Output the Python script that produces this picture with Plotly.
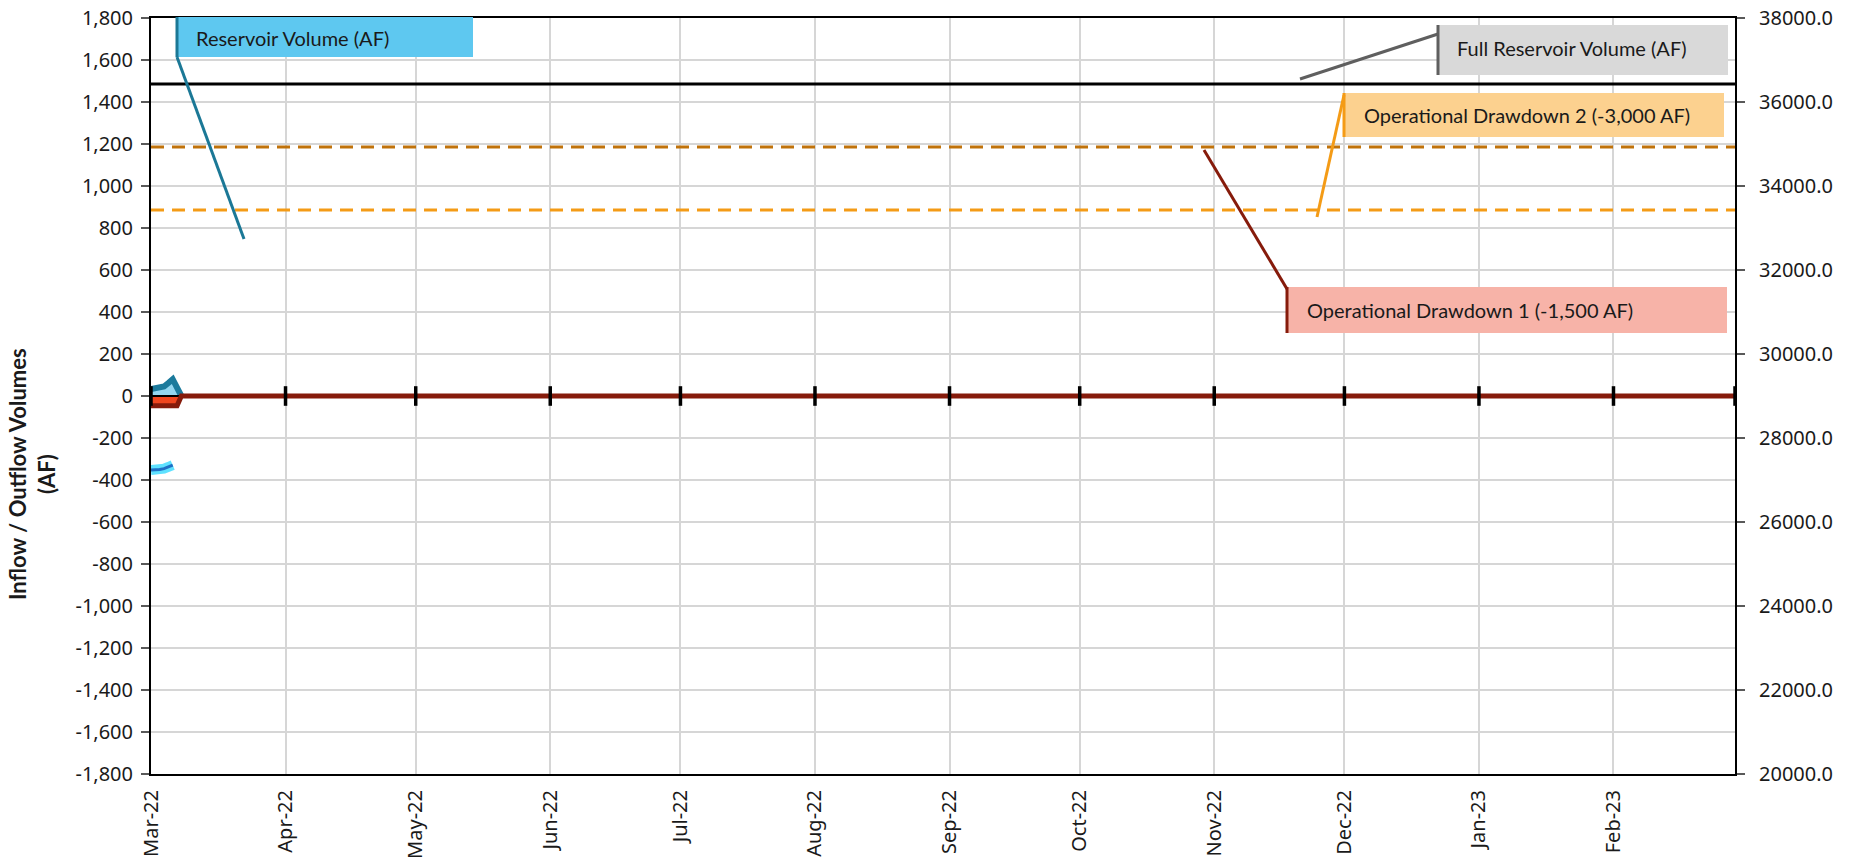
import plotly.graph_objects as go

# ---------------- data ----------------
X_START = "2022-03-01"
X_END = "2023-03-01"
MONTH_TICKS = ["2022-03-01", "2022-04-01", "2022-05-01", "2022-06-01", "2022-07-01",
               "2022-08-01", "2022-09-01", "2022-10-01", "2022-11-01", "2022-12-01",
               "2023-01-01", "2023-02-01"]
TICK_MARK_DATES = MONTH_TICKS + [X_END]

FLOW_DATES = ["2022-03-01", "2022-03-02", "2022-03-03", "2022-03-04",
              "2022-03-05", "2022-03-06", "2022-03-07", "2022-03-08"]
INFLOW = [33, 35, 38, 45, 62, 80, 40, 0]

OUTFLOW_DATES = FLOW_DATES + [X_END]
OUTFLOW = [-47, -47, -47, -47, -47, -47, -47, 0, 0]

RES_DATES = ["2022-03-01", "2022-03-02", "2022-03-03", "2022-03-04", "2022-03-05", "2022-03-06"]
RES_VOLUME = [27240, 27240, 27250, 27270, 27310, 27355]

FULL_VOLUME = 36430
DRAWDOWN_1 = 34930
DRAWDOWN_2 = 33430

Y_LEFT_RANGE = [-1800, 1800]
Y_RIGHT_RANGE = [20000, 38000]
LEFT_TICKS = [-1800, -1600, -1400, -1200, -1000, -800, -600, -400, -200,
              0, 200, 400, 600, 800, 1000, 1200, 1400, 1600, 1800]
LEFT_TICK_TEXT = ["-1,800", "-1,600", "-1,400", "-1,200", "-1,000", "-800", "-600", "-400",
                  "-200", "0", "200", "400", "600", "800", "1,000", "1,200", "1,400",
                  "1,600", "1,800"]

CALLOUTS = ["Reservoir Volume (AF)", "Full Reservoir Volume (AF)",
            "Operational Drawdown 2 (-3,000 AF)", "Operational Drawdown 1 (-1,500 AF)"]
Y_TITLE = "Inflow / Outflow Volumes<br>(AF)"

# ---------------- layout geometry ----------------
W, H = 1854, 858
L, R, T, B = 151, 1735, 18, 774


def fx(px):
    return (px - L) / (R - L)


def fy(py):
    return (B - py) / (B - T)


fig = go.Figure()

# reference lines (right axis)
fig.add_trace(go.Scatter(x=[X_START, X_END], y=[FULL_VOLUME, FULL_VOLUME], yaxis="y2",
                         mode="lines", line=dict(color="#000000", width=3), showlegend=False))
fig.add_trace(go.Scatter(x=[X_START, X_END], y=[DRAWDOWN_1, DRAWDOWN_1], yaxis="y2",
                         mode="lines", line=dict(color="#c0720a", width=3, dash="13px,8px"),
                         showlegend=False))
fig.add_trace(go.Scatter(x=[X_START, X_END], y=[DRAWDOWN_2, DRAWDOWN_2], yaxis="y2",
                         mode="lines", line=dict(color="#f49b16", width=3, dash="13px,8px"),
                         showlegend=False))
# reservoir volume with glow
fig.add_trace(go.Scatter(x=RES_DATES, y=RES_VOLUME, yaxis="y2", mode="lines",
                         line=dict(color="rgba(40,215,255,0.75)", width=10), showlegend=False))
fig.add_trace(go.Scatter(x=RES_DATES, y=RES_VOLUME, yaxis="y2", mode="lines",
                         line=dict(color="#1f6fc5", width=3), showlegend=False))

# outflow fill
fig.add_trace(go.Scatter(x=OUTFLOW_DATES, y=OUTFLOW, mode="lines", fill="tozeroy",
                         fillcolor="#f0461e", line=dict(width=0), showlegend=False))
# inflow area
fig.add_trace(go.Scatter(x=FLOW_DATES, y=INFLOW, mode="lines", fill="tozeroy",
                         fillcolor="#93d6f0", line=dict(color="#1b7a9c", width=6),
                         showlegend=False))
# horizontal axis at zero
fig.add_trace(go.Scatter(x=[X_START, X_END], y=[0, 0], mode="lines",
                         line=dict(color="#000000", width=2), showlegend=False))
# outflow line
fig.add_trace(go.Scatter(x=OUTFLOW_DATES, y=OUTFLOW, mode="lines",
                         line=dict(color="#861b0b", width=5), showlegend=False))
# cross tick marks on the zero axis
fig.add_trace(go.Scatter(x=TICK_MARK_DATES, y=[0] * len(TICK_MARK_DATES), mode="markers",
                         marker=dict(symbol="line-ns", size=14,
                                     line=dict(color="#000000", width=3.5)),
                         cliponaxis=False, showlegend=False))

tick_font = dict(family="Noto Sans", size=20, color="#1a1a1a")

fig.update_layout(
    width=W, height=H,
    margin=dict(l=L, r=W - R, t=T, b=H - B, autoexpand=False),
    paper_bgcolor="white", plot_bgcolor="white",
    showlegend=False,
    xaxis=dict(type="date", range=[X_START, X_END], tickvals=MONTH_TICKS, tickformat="%b-%y",
               tickangle=-90, ticks="", showgrid=True, gridcolor="#d6d6d6", gridwidth=1.5,
               showline=True, linecolor="#000000", linewidth=2, mirror=True,
               tickfont=tick_font, zeroline=False, automargin=False, ticklabelstandoff=6),
    yaxis=dict(range=Y_LEFT_RANGE, tickmode="array", tickvals=LEFT_TICKS,
               ticktext=LEFT_TICK_TEXT, showgrid=True,
               gridcolor="#d6d6d6", gridwidth=1.5, zeroline=False,
               showline=True, linecolor="#000000", linewidth=2,
               ticks="outside", ticklen=8, tickcolor="#595959", tickwidth=1.5,
               tickfont=tick_font, automargin=False, ticklabelstandoff=4),
    yaxis2=dict(range=Y_RIGHT_RANGE, dtick=2000, tickformat=".1f", overlaying="y",
                side="right", showgrid=False, zeroline=False,
                showline=True, linecolor="#000000", linewidth=2,
                ticks="outside", ticklen=8, tickcolor="#595959", tickwidth=1.5,
                tickfont=tick_font, automargin=False, ticklabelstandoff=10),
)

shapes = []
annotations = []

# callout boxes: (x0, y0, x1, y1, fill, edge color, leader start, leader end, text x, text y, text)
boxes = [
    (177, 17, 473, 57, "#5ec8f0", "#1b7896", (177, 57), (244, 239), 194, 38, CALLOUTS[0]),
    (1438, 25, 1728, 75, "#d9d9d9", "#5f5f5f", (1438, 34), (1300, 79), 1455, 48, CALLOUTS[1]),
    (1344, 93, 1724, 137, "#fcd18f", "#f49b16", (1344, 95), (1317, 217), 1362, 115, CALLOUTS[2]),
    (1287, 287, 1727, 333, "#f7b3a8", "#861b0b", (1287, 289), (1204, 150), 1305, 310, CALLOUTS[3]),
]
for x0, y0, x1, y1, fill, edge, ls, le, tx, ty, txt in boxes:
    shapes.append(dict(type="rect", xref="paper", yref="paper",
                       x0=fx(x0), x1=fx(x1), y0=fy(y1), y1=fy(y0),
                       fillcolor=fill, line=dict(width=0), layer="above"))
    shapes.append(dict(type="line", xref="paper", yref="paper",
                       x0=fx(x0), x1=fx(x0), y0=fy(y1), y1=fy(y0),
                       line=dict(color=edge, width=3), layer="above"))
    shapes.append(dict(type="line", xref="paper", yref="paper",
                       x0=fx(ls[0]), y0=fy(ls[1]), x1=fx(le[0]), y1=fy(le[1]),
                       line=dict(color=edge, width=3), layer="above"))
    annotations.append(dict(xref="paper", yref="paper", x=fx(tx), y=fy(ty),
                            xanchor="left", yanchor="middle", showarrow=False, text=txt,
                            font=dict(family="Lato", size=20, color="#1a1a1a")))

annotations.append(dict(xref="paper", yref="paper", x=fx(32), y=fy(474),
                        xanchor="center", yanchor="middle", showarrow=False,
                        text=Y_TITLE, textangle=-90,
                        font=dict(family="Lato", size=22, color="#1a1a1a", weight="bold")))

fig.update_layout(shapes=shapes, annotations=annotations)

fig.write_html("out.html", config={"displayModeBar": False},
               post_script="document.body.style.margin='0';document.body.style.overflow='hidden';")
